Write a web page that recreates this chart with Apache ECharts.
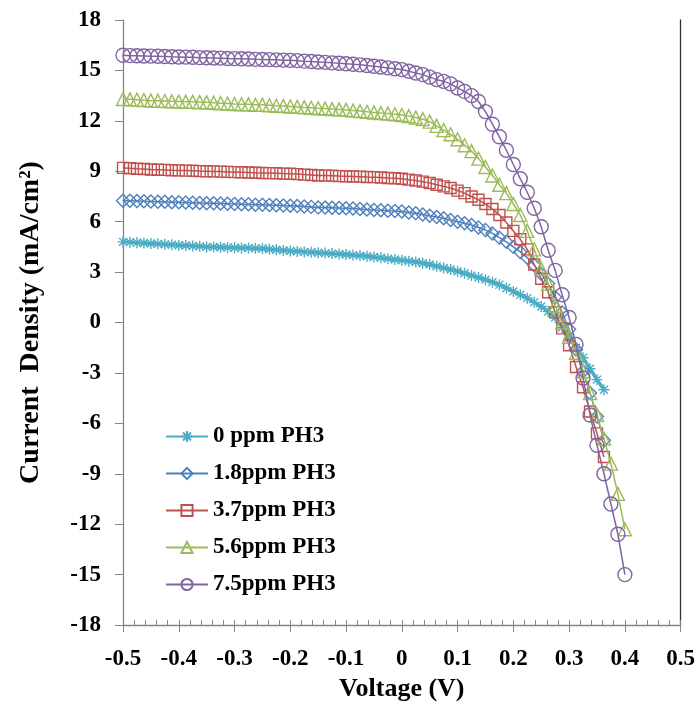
<!DOCTYPE html>
<html><head><meta charset="utf-8">
<script src="https://cdn.jsdelivr.net/npm/echarts@6/dist/echarts.min.js"></script>
<style>html,body{margin:0;padding:0;background:#fff}#c{width:698px;height:717px}</style>
</head><body><div id="c"></div>
<script>
const voltage = [-0.5,-0.4875,-0.475,-0.4625,-0.45,-0.4375,-0.425,-0.4125,-0.4,-0.3875,-0.375,-0.3625,-0.35,-0.3375,-0.325,-0.3125,-0.3,-0.2875,-0.275,-0.2625,-0.25,-0.2375,-0.225,-0.2125,-0.2,-0.1875,-0.175,-0.1625,-0.15,-0.1375,-0.125,-0.1125,-0.1,-0.0875,-0.075,-0.0625,-0.05,-0.0375,-0.025,-0.0125,0,0.0125,0.025,0.0375,0.05,0.0625,0.075,0.0875,0.1,0.1125,0.125,0.1375,0.15,0.1625,0.175,0.1875,0.2,0.2125,0.225,0.2375,0.25,0.2625,0.275,0.2875,0.3,0.3125,0.325,0.3375,0.35,0.3625,0.375,0.3875,0.4];

const seriesNames = ['0 ppm PH3','1.8ppm PH3','3.7ppm PH3','5.6ppm PH3','7.5ppm PH3'];

const j0ppm = [4.8,4.78,4.75,4.73,4.7,4.68,4.65,4.63,4.6,4.58,4.55,4.53,4.5,4.49,4.48,4.46,4.45,4.44,4.43,4.41,4.4,4.36,4.33,4.29,4.25,4.23,4.2,4.18,4.15,4.13,4.1,4.08,4.05,4.01,3.98,3.94,3.9,3.85,3.8,3.75,3.7,3.65,3.6,3.53,3.45,3.35,3.25,3.15,3.05,2.93,2.8,2.68,2.55,2.4,2.25,2.05,1.85,1.65,1.45,1.2,0.95,0.65,0.3,-0.3,-0.9,-1.5,-2.1,-2.75,-3.4,-4.0];
const j18ppm = [7.25,7.24,7.23,7.21,7.2,7.19,7.18,7.16,7.15,7.14,7.13,7.11,7.1,7.09,7.08,7.06,7.05,7.04,7.03,7.01,7.0,6.99,6.98,6.96,6.95,6.93,6.9,6.88,6.85,6.84,6.83,6.81,6.8,6.78,6.75,6.73,6.7,6.68,6.65,6.63,6.6,6.55,6.5,6.43,6.35,6.28,6.2,6.1,6.0,5.9,5.8,5.65,5.5,5.3,5.05,4.8,4.5,4.2,3.85,3.4,2.9,2.3,1.5,0.6,-0.4,-1.6,-2.9,-4.2,-5.6,-7.0];
const j37ppm = [9.2,9.18,9.15,9.13,9.1,9.09,9.08,9.06,9.05,9.04,9.03,9.01,9.0,8.99,8.98,8.96,8.95,8.94,8.93,8.91,8.9,8.89,8.88,8.86,8.85,8.83,8.8,8.78,8.75,8.74,8.73,8.71,8.7,8.69,8.68,8.66,8.65,8.63,8.6,8.58,8.55,8.5,8.45,8.38,8.3,8.2,8.1,8.0,7.85,7.7,7.5,7.3,7.05,6.75,6.4,5.95,5.45,4.95,4.35,3.45,2.6,1.8,0.6,-0.35,-1.35,-2.65,-3.85,-5.3,-6.6,-8.0];
const j56ppm = [13.3,13.28,13.26,13.23,13.2,13.19,13.18,13.16,13.15,13.14,13.13,13.11,13.1,13.08,13.05,13.03,13.0,12.99,12.98,12.96,12.95,12.93,12.9,12.88,12.85,12.83,12.8,12.78,12.75,12.73,12.7,12.68,12.65,12.61,12.58,12.54,12.5,12.46,12.43,12.39,12.35,12.28,12.2,12.1,11.95,11.7,11.45,11.2,10.9,10.55,10.2,9.75,9.25,8.75,8.2,7.7,7.05,6.4,5.45,4.35,3.2,2.3,1.0,0.0,-0.85,-1.8,-2.9,-4.2,-5.5,-6.9,-8.4,-10.2,-12.3];
const j75ppm = [15.9,15.88,15.87,15.86,15.85,15.84,15.83,15.81,15.8,15.79,15.78,15.76,15.75,15.74,15.73,15.71,15.7,15.69,15.68,15.66,15.65,15.64,15.63,15.61,15.6,15.58,15.55,15.53,15.5,15.48,15.45,15.43,15.4,15.37,15.33,15.29,15.25,15.2,15.15,15.1,15.05,14.95,14.85,14.75,14.6,14.45,14.35,14.2,13.95,13.75,13.5,13.15,12.55,11.8,11.05,10.25,9.4,8.55,7.75,6.8,5.7,4.3,3.1,1.65,0.3,-1.3,-3.3,-5.5,-7.3,-9.0,-10.8,-12.6,-15.0];

const xTicks = {min:-0.5, max:0.5, step:0.1};
const yTicks = {min:-18, max:18, step:3};

const colors = ['#4BACC6','#4F81BD','#C0504D','#9BBB59','#8064A2'];
const seriesData = [j0ppm, j18ppm, j37ppm, j56ppm, j75ppm];
const asterisk = 'path://M5,0L5,10M0,5L10,5M1.4,1.4L8.6,8.6M8.6,1.4L1.4,8.6';
const symbols = [asterisk, 'diamond', 'rect', 'triangle', 'circle'];
const symbolSizes = [11, 13, 11, 13, 14];
const lineWidths = [3.4, 1.5, 1.5, 1.5, 1.5];

const FONT = '"Liberation Serif","Times New Roman",serif';

const chart = echarts.init(document.getElementById('c'), null, {renderer:'canvas'});
const series = seriesData.map((arr, k) => ({
  name: seriesNames[k],
  type: 'line',
  xAxisIndex: 0, yAxisIndex: 0,
  data: arr.map((v, i) => [voltage[i], v]),
  symbol: symbols[k],
  symbolSize: symbolSizes[k],
  showAllSymbol: true,
  smooth: false,
  z: 2 + k,
  lineStyle: {color: colors[k], width: lineWidths[k]},
  itemStyle: {color: 'rgba(255,255,255,0)', borderColor: colors[k], borderWidth: 1.4},
  emphasis: {disabled: true},
  animation: false
}));

const xLabelFmt = v => Math.abs(v) < 1e-9 ? '0' : v.toFixed(1);

chart.setOption({
  animation: false,
  backgroundColor: '#fff',
  grid: {left: 123, right: 16, top: 20, bottom: 92, containLabel: false},
  legend: {
    orient: 'vertical', left: 160, top: 420, itemGap: 14, itemWidth: 42, itemHeight: 14,
    textStyle: {fontFamily: FONT, fontWeight: 'bold', fontSize: 23, color: '#000'},
    data: seriesNames
  },
  xAxis: [{
    type: 'value', min: xTicks.min, max: xTicks.max, interval: xTicks.step,
    name: 'Voltage (V)', nameLocation: 'middle', nameGap: 50,
    nameTextStyle: {fontFamily: FONT, fontWeight: 'bold', fontSize: 26, color: '#000'},
    axisLine: {onZero: false, lineStyle: {color: '#868686', width: 1.3}},
    axisTick: {show: true, inside: false, length: 7, lineStyle: {color: '#868686'}},
    splitLine: {show: false},
    axisLabel: {fontFamily: FONT, fontWeight: 'bold', fontSize: 23, color: '#000', margin: 23,
      formatter: xLabelFmt}
  }, {
    type: 'value', min: xTicks.min, max: xTicks.max, interval: xTicks.step, position: 'bottom',
    axisLine: {show: false, onZero: false},
    axisTick: {show: true, inside: true, length: 5, lineStyle: {color: '#868686'}},
    minorTick: {show: true, splitNumber: 5, length: 5, lineStyle: {color: '#868686'}},
    axisLabel: {show: false}, splitLine: {show: false}
  }],
  yAxis: [{
    type: 'value', min: yTicks.min, max: yTicks.max, interval: yTicks.step,
    name: 'Current  Density (mA/cm\u00B2)', nameLocation: 'middle', nameGap: 78, nameRotate: 90,
    nameTextStyle: {fontFamily: FONT, fontWeight: 'bold', fontSize: 28, color: '#000'},
    axisLine: {show: true, onZero: false, lineStyle: {color: '#868686', width: 1.3}},
    axisTick: {show: true, inside: false, length: 8, lineStyle: {color: '#868686'}},
    splitLine: {show: false},
    axisLabel: {fontFamily: FONT, fontWeight: 'bold', fontSize: 23, color: '#000', margin: 22}
  }, {
    type: 'value', min: yTicks.min, max: yTicks.max, interval: yTicks.step, position: 'right',
    axisLine: {show: true, onZero: false, lineStyle: {color: '#333', width: 1.3}},
    axisTick: {show: false}, axisLabel: {show: false}, splitLine: {show: false}
  }],
  series: series
});
</script></body></html>
